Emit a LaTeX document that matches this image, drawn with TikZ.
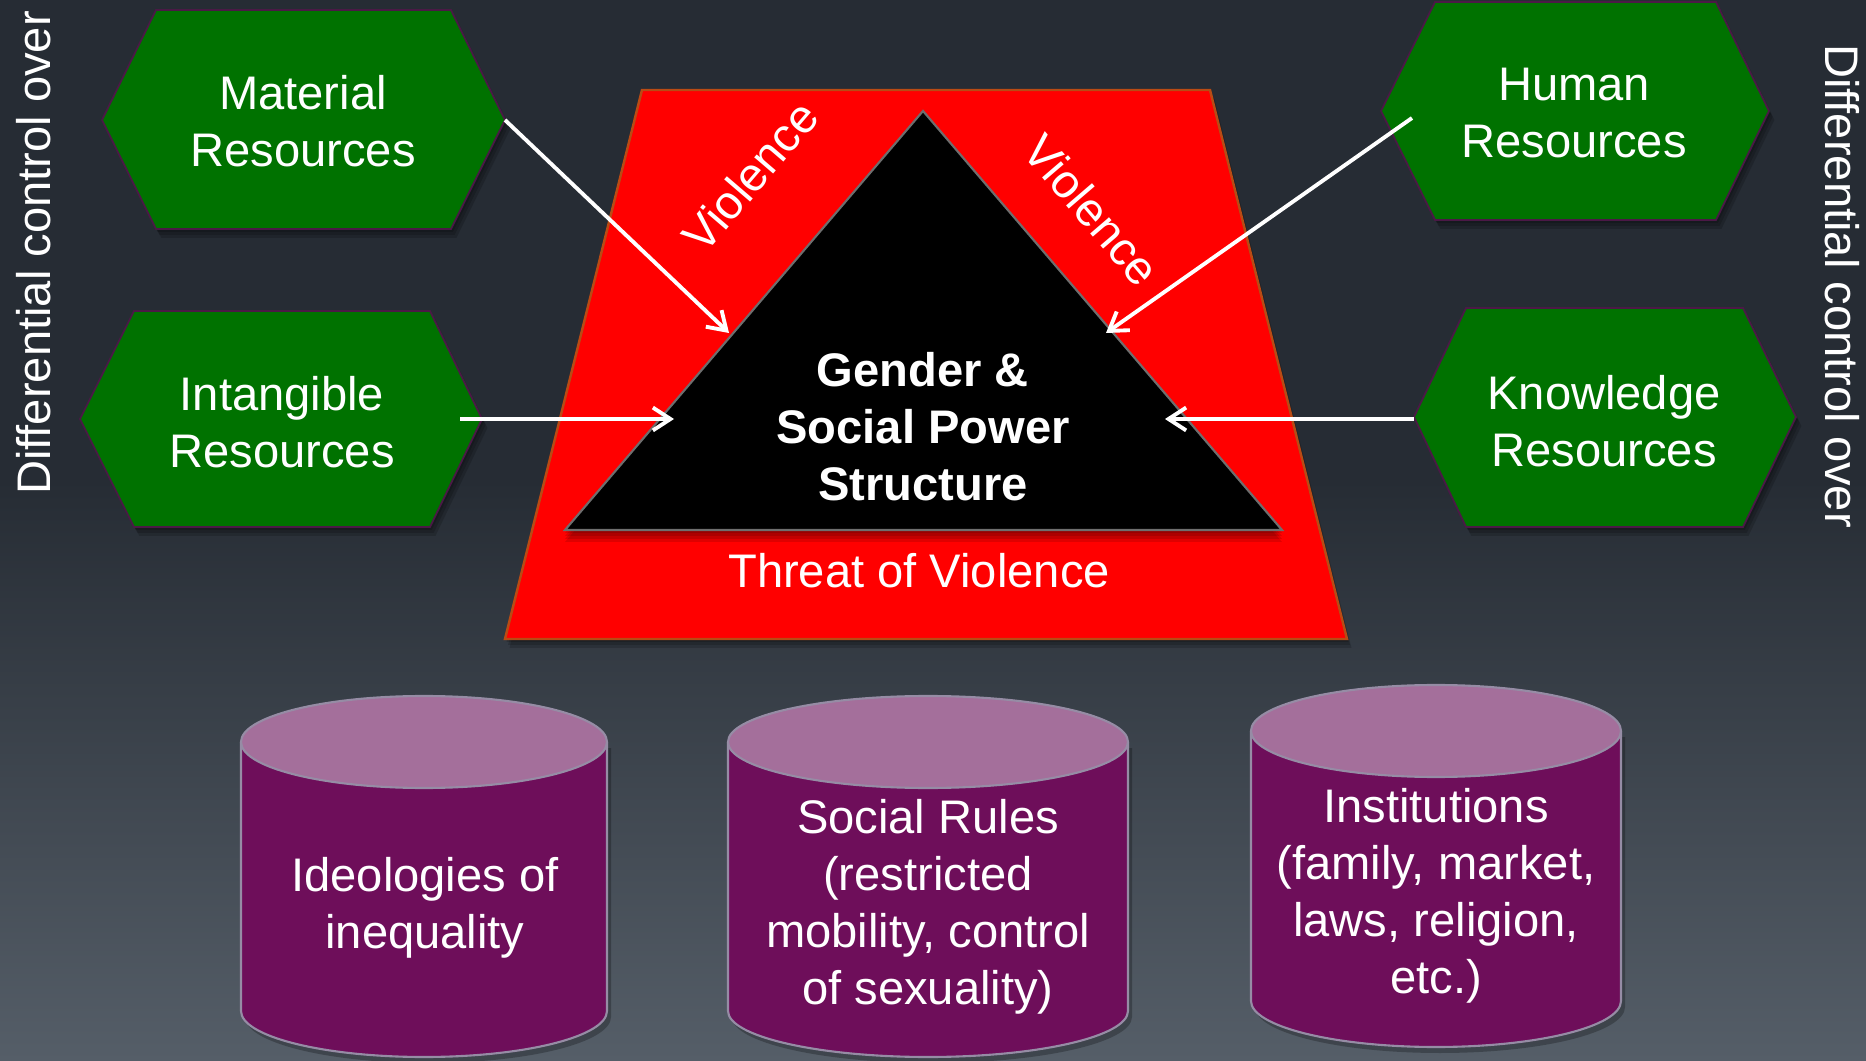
\documentclass[tikz,border=0pt]{standalone}
\usepackage{fontspec}
\setmainfont{Liberation Sans}
\usetikzlibrary{arrows.meta}
\definecolor{bgtop}{RGB}{38,44,52}
\definecolor{bgbot}{RGB}{85,94,104}
\definecolor{hexgreen}{RGB}{0,114,0}
\definecolor{hexedge}{RGB}{75,25,70}
\definecolor{trapred}{RGB}{255,0,0}
\definecolor{trapedge}{RGB}{185,75,20}
\definecolor{triedge}{RGB}{110,110,110}
\definecolor{cylbody}{RGB}{110,14,90}
\definecolor{cyltop}{RGB}{164,111,155}
\definecolor{cyledge}{RGB}{150,140,165}
\newcommand\mycyl[5]{%
  \fill[black,opacity=0.25] ({#1-#4+4},-#2-6) -- ({#1-#4+4},-#3-6) arc[start angle=180,end angle=360,x radius=#4,y radius=#5] -- ({#1+#4+4},-#2-6) -- cycle;
  \fill[cylbody] ({#1-#4},-#2) -- ({#1-#4},-#3) arc[start angle=180,end angle=360,x radius=#4,y radius=#5] -- ({#1+#4},-#2) -- cycle;
  \draw[cyledge,line width=0.6pt] ({#1-#4},-#2) -- ({#1-#4},-#3) arc[start angle=180,end angle=360,x radius=#4,y radius=#5] -- ({#1+#4},-#2);
  \filldraw[fill=cyltop,draw=cyledge,line width=0.6pt] (#1,-#2) ellipse[x radius=#4,y radius=#5];
}
\begin{document}
\begin{tikzpicture}[x=0.01cm,y=0.01cm,
  lbl/.style={text=white,font=\fontsize{13.4}{16.2}\selectfont,align=center,inner sep=0pt},
  lblb/.style={text=white,font=\bfseries\fontsize{13.4}{16.2}\selectfont,align=center,inner sep=0pt},
  hexa/.style={fill=hexgreen,draw=hexedge,line width=0.5pt},
  shadowfill/.style={fill=black,opacity=0.3},
  link/.style={draw=white,line width=1.1pt,-{Straight Barb[length=5pt,width=6.5pt]}},
]
% background
\useasboundingbox (0,0) rectangle (1866,-1061);
\fill[bgtop] (0,0) rectangle (1866,-481);
\shade[top color=bgtop,bottom color=bgbot] (0,-480) rectangle (1866,-1061);

% hexagon shadows
\foreach \s in {3,6,9}{
\begin{scope}[shift={(0.6*\s,-\s)}]
\fill[black,opacity=0.16] (102,-120) -- (156,-10) -- (451,-10) -- (505,-120) -- (451,-229) -- (156,-229) -- cycle;
\fill[black,opacity=0.16] (80,-419) -- (134,-311) -- (430,-311) -- (482,-419) -- (430,-527) -- (134,-527) -- cycle;
\fill[black,opacity=0.16] (1381,-111) -- (1435,-2) -- (1716,-2) -- (1769,-111) -- (1716,-220) -- (1435,-220) -- cycle;
\fill[black,opacity=0.16] (1414,-417) -- (1466,-308) -- (1743,-308) -- (1796,-417) -- (1743,-527) -- (1466,-527) -- cycle;
\end{scope}}
% hexagons
\filldraw[hexa] (102,-120) -- (156,-10) -- (451,-10) -- (505,-120) -- (451,-229) -- (156,-229) -- cycle;
\filldraw[hexa] (80,-419) -- (134,-311) -- (430,-311) -- (482,-419) -- (430,-527) -- (134,-527) -- cycle;
\filldraw[hexa] (1381,-111) -- (1435,-2) -- (1716,-2) -- (1769,-111) -- (1716,-220) -- (1435,-220) -- cycle;
\filldraw[hexa] (1414,-417) -- (1466,-308) -- (1743,-308) -- (1796,-417) -- (1743,-527) -- (1466,-527) -- cycle;

% trapezoid
\foreach \s in {3,6,9}{
\fill[black,opacity=0.16] (642+0.5*\s,-90-\s) -- (1210+0.5*\s,-90-\s) -- (1347+0.5*\s,-639-\s) -- (505+0.5*\s,-639-\s) -- cycle;}
\filldraw[fill=trapred,draw=trapedge,line width=0.7pt] (642,-90) -- (1210,-90) -- (1347,-639) -- (505,-639) -- cycle;

% triangle
\foreach \s in {3,6,9,12}{
\fill[black,opacity=0.12] (923,-111-\s) -- (1282,-530-\s) -- (565,-530-\s) -- cycle;}
\filldraw[fill=black,draw=triedge,line width=0.6pt] (923,-111) -- (1282,-530) -- (565,-530) -- cycle;

% cylinders
\mycyl{424}{742}{1011}{183}{46}
\mycyl{928}{742}{1011}{200}{46}
\mycyl{1436}{731}{1001}{185}{46}

% texts
\node[lbl] (mat) at (303,-121) {Material\\Resources};
\node[lbl] (int) at (282,-422) {Intangible\\Resources};
\node[lbl] (hum) at (1574,-113) {Human\\Resources};
\node[lbl] (kno) at (1604,-421) {Knowledge\\Resources};
\node[lblb] (core) at (923,-427) {Gender \&\\Social Power\\Structure};
\node[lbl] (threat) at (919,-571) {Threat of Violence};
\node[lbl,rotate=49.4] (vl) at (750,-176) {Violence};
\node[lbl,rotate=-49.4] (vr) at (1092,-210) {Violence};
\node[lbl,rotate=90] (dl) at (34,-253) {Differential control over};
\node[lbl,rotate=-90] (dr) at (1842,-286) {Differential control over};
\node[lbl] (ideo) at (425,-908) {Ideologies of\\inequality};
\node[lbl] (rules) at (928,-907) {Social Rules\\(restricted\\mobility, control\\of sexuality)};
\node[lbl] (inst) at (1436,-896) {Institutions\\(family, market,\\laws, religion,\\etc.)};

% arrows
\coordinate (a1s) at (505,-120); \coordinate (a1e) at (729,-333);
\coordinate (a2s) at (460,-419); \coordinate (a2e) at (674,-419);
\coordinate (a3s) at (1412,-118); \coordinate (a3e) at (1106,-333);
\coordinate (a4s) at (1414,-419); \coordinate (a4e) at (1165,-419);
\draw[link] (a1s) -- (a1e);
\draw[link] (a2s) -- (a2e);
\draw[link] (a3s) -- (a3e);
\draw[link] (a4s) -- (a4e);
\end{tikzpicture}
\end{document}
